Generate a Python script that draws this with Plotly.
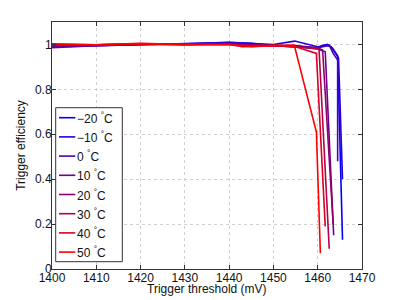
import plotly.graph_objects as go

temps = ["−20", "−10", "0", "10", "20", "30", "40", "50"]

x_m20 = [1400, 1410, 1420, 1430, 1440, 1445, 1450, 1455, 1460, 1461, 1462.2, 1463.3, 1464.5, 1465.6]
y_m20 = [0.99, 0.995, 1.0, 1.002, 1.008, 1.005, 0.995, 0.99, 0.985, 0.995, 1.0, 0.985, 0.95, 0.13]

x_m10 = [1400, 1410, 1420, 1430, 1440, 1445, 1450, 1454.8, 1460, 1462, 1463, 1464.7, 1465.6]
y_m10 = [0.995, 0.997, 1.0, 1.003, 1.01, 1.005, 1.0, 1.015, 0.99, 0.995, 0.99, 0.94, 0.40]

x_0 = [1400, 1410, 1420, 1430, 1440, 1445, 1450, 1455, 1460, 1462.6, 1463.5, 1464.5, 1464.5]
y_0 = [0.99, 0.995, 1.0, 1.0, 1.005, 1.0, 0.995, 0.995, 0.985, 0.997, 0.96, 0.93, 0.48]

x_10 = [1400, 1410, 1420, 1430, 1440, 1445, 1450, 1455, 1460, 1461.7, 1463.6]
y_10 = [0.985, 0.995, 1.0, 1.0, 1.003, 0.998, 0.993, 0.99, 0.98, 0.967, 0.15]

x_20 = [1400, 1410, 1420, 1430, 1440, 1445, 1450, 1455, 1460, 1461.1, 1463.5]
y_20 = [0.995, 0.997, 1.002, 1.0, 1.002, 0.998, 0.995, 0.99, 0.985, 0.975, 0.20]

x_30 = [1400, 1410, 1420, 1430, 1440, 1445, 1450, 1455, 1460.3, 1462.6]
y_30 = [1.0, 0.998, 1.003, 1.0, 1.0, 0.995, 0.997, 0.99, 0.98, 0.09]

x_40 = [1400, 1410, 1420, 1430, 1440, 1443, 1450, 1455, 1459.7, 1461.7]
y_40 = [1.0, 0.998, 1.003, 0.998, 1.0, 0.99, 0.995, 0.99, 0.96, 0.19]

x_50 = [1400, 1410, 1420, 1430, 1440, 1445, 1450, 1454.7, 1459.7, 1460.6]
y_50 = [1.003, 0.998, 1.005, 1.0, 1.0, 0.99, 0.995, 0.997, 0.61, 0.07]

xs = [x_m20, x_m10, x_0, x_10, x_20, x_30, x_40, x_50]
ys = [y_m20, y_m10, y_0, y_10, y_20, y_30, y_40, y_50]

x_ticks = [1400, 1410, 1420, 1430, 1440, 1450, 1460, 1470]
y_ticks = [0, 0.2, 0.4, 0.6, 0.8, 1]
y_tick_labels = ["0", "0.2", "0.4", "0.6", "0.8", "1"]

# the page body adds an 8px offset, so the figure is sized to fit the window
OFF = 8
W, H = 399 - OFF, 300 - OFF
L, T = 52 - OFF, 22 - OFF
R = W - (362 - OFF)
B = H - (269 - OFF)
PW, PH = W - L - R, H - T - B


def px2paper(px, py):
    """Convert screen pixel position (as measured on the reference) to paper coords."""
    fx, fy = px - OFF, py - OFF
    return (fx - L) / PW, (H - B - fy) / PH


fig = go.Figure()
n = len(temps)
colors = []
for i, (t, x, y) in enumerate(zip(temps, xs, ys)):
    f = i / (n - 1)
    col = f"rgb({round(255*f)},0,{round(255*(1-f))})"
    colors.append(col)
    fig.add_trace(go.Scatter(x=x, y=y, mode="lines", name=f"{t} °C",
                             line=dict(color=col, width=1.6), showlegend=False))

# legend box (drawn manually to match compact layout)
bx0, by0 = px2paper(55.7, 261.7)
bx1, by1 = px2paper(122.3, 107.7)
shapes = [dict(type="rect", xref="paper", yref="paper", x0=bx0, y0=by0, x1=bx1, y1=by1,
               line=dict(color="#333", width=1), fillcolor="white", layer="above")]
annotations = []
for i, (t, col) in enumerate(zip(temps, colors)):
    py = 117.7 + 19.2 * i
    lx0, ly = px2paper(59, py)
    lx1, _ = px2paper(75.3, py)
    tx, _ = px2paper(77, py)
    shapes.append(dict(type="line", xref="paper", yref="paper", x0=lx0, x1=lx1, y0=ly, y1=ly,
                       line=dict(color=col, width=1.6), layer="above"))
    annotations.append(dict(xref="paper", yref="paper", x=tx, y=ly, xanchor="left", yanchor="middle",
                            text=f"{t} <sup>°</sup>C", showarrow=False,
                            font=dict(size=12, color="#111"), xshift=-2))

# x-axis title placed to match reference position
annotations.append(dict(xref="paper", yref="paper", x=0.5, y=0, xanchor="center", yanchor="middle",
                        yshift=-20, text="Trigger threshold (mV)", showarrow=False,
                        font=dict(size=12, color="#111")))

axis_common = dict(showline=True, linecolor="#333", linewidth=1, mirror="ticks",
                   ticks="inside", ticklen=4, tickcolor="#333",
                   showgrid=True, gridcolor="#d0d0d0", griddash="dot", gridwidth=1,
                   zeroline=False, tickfont=dict(size=12, color="#111"), automargin=False)

fig.update_xaxes(range=[1400, 1470], tickvals=x_ticks, ticklabelstandoff=-2, **axis_common)
fig.update_yaxes(range=[0, 1.1], tickvals=y_ticks, ticktext=y_tick_labels, ticklabelstandoff=-3,
                 title=dict(text="Trigger efficiency", font=dict(size=12, color="#111"), standoff=6),
                 **axis_common)

fig.update_layout(
    width=W, height=H,
    margin=dict(l=L, r=R, t=T, b=B, autoexpand=False),
    paper_bgcolor="white", plot_bgcolor="white",
    font=dict(family="Liberation Sans, Arial, sans-serif", size=12, color="#111"),
    shapes=shapes, annotations=annotations,
)

fig.write_html("out.html")
